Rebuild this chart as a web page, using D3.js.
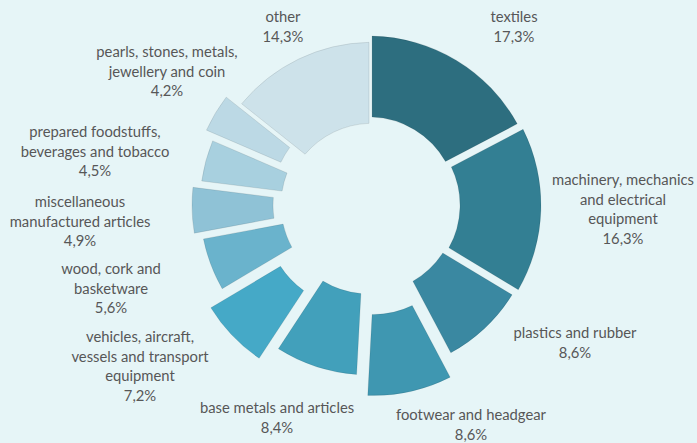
<!DOCTYPE html>
<html>
<head>
<meta charset="utf-8">
<script src="https://cdn.jsdelivr.net/npm/d3@7"></script>
<style>
    html, body { margin: 0; padding: 0; background: #e6f5f7; }
    svg { display: block; }
    .lbl { font-family: Lato, "Open Sans", sans-serif; font-size: 14.8px; fill: #575757; }
</style>
</head>
<body>
<svg id="chart"></svg>
<script>
// данные
const categories = ["textiles", "machinery, mechanics and electrical equipment", "plastics and rubber",
    "footwear and headgear", "base metals and articles", "vehicles, aircraft, vessels and transport equipment",
    "wood, cork and basketware", "miscellaneous manufactured articles", "prepared foodstuffs, beverages and tobacco",
    "pearls, stones, metals, jewellery and coin", "other"];
const shares = [17.3, 16.3, 8.6, 8.6, 8.4, 7.2, 5.6, 4.9, 4.5, 4.2, 14.3];
const shareLabels = ["17,3%", "16,3%", "8,6%", "8,6%", "8,4%", "7,2%", "5,6%", "4,9%", "4,5%", "4,2%", "14,3%"];
const labelLines = [
    ["textiles"],
    ["machinery, mechanics", "and electrical", "equipment"],
    ["plastics and rubber"],
    ["footwear and headgear"],
    ["base metals and articles"],
    ["vehicles, aircraft,", "vessels and transport", "equipment"],
    ["wood, cork and", "basketware"],
    ["miscellaneous", "manufactured articles"],
    ["prepared foodstuffs,", "beverages and tobacco"],
    ["pearls, stones, metals,", "jewellery and coin"],
    ["other"]
];

// оформление
const colors = ["#2d6e7f", "#337f93", "#3a88a1", "#3f97b1", "#42a0bb", "#45a9c7",
    "#6ab3cc", "#8fc2d6", "#a8d0df", "#bcd9e5", "#cde2ea"];
const explode = [0, 3, 0, 22, 1, 20, 0, 8, 0, 10, -7];
const labelPos = [[514, 17], [623, 180], [575, 333], [471, 415], [277, 408], [140, 337],
    [111, 269], [80, 202], [95, 132], [167, 52], [283, 17]];

const width = 697, height = 443;
const cx = 369, cy = 205;
const innerR = 88, outerR = 169;
const lineH = 19.5;

const svg = d3.select("#chart")
    .attr("width", width)
    .attr("height", height);

const pie = d3.pie().sort(null).value(d => d);
const arcs = pie(shares);

const arc = d3.arc()
    .innerRadius(innerR)
    .outerRadius(outerR)
    .padAngle(0.036)
    .padRadius(170);

const g = svg.append("g")
    .attr("transform", "translate(" + cx + "," + cy + ")");

g.selectAll("path")
    .data(arcs)
    .enter()
    .append("path")
    .attr("d", arc)
    .attr("transform", (d, i) => {
        let a = (d.startAngle + d.endAngle) / 2;
        return "translate(" + (Math.sin(a) * explode[i]) + "," + (-Math.cos(a) * explode[i]) + ")";
    })
    .style("fill", (d, i) => colors[i])
    .style("stroke", "rgba(0,0,0,0.12)")
    .style("stroke-width", 0.8);

// подписи
const labels = svg.append("g");
labelLines.forEach((lines, i) => {
    let t = labels.append("text")
        .attr("class", "lbl")
        .attr("text-anchor", "middle")
        .attr("x", labelPos[i][0])
        .attr("y", labelPos[i][1]);
    lines.concat([shareLabels[i]]).forEach((s, k) => {
        t.append("tspan")
            .attr("x", labelPos[i][0])
            .attr("y", labelPos[i][1] + k * lineH)
            .attr("dy", "0.35em")
            .text(s);
    });
});
</script>
</body>
</html>
